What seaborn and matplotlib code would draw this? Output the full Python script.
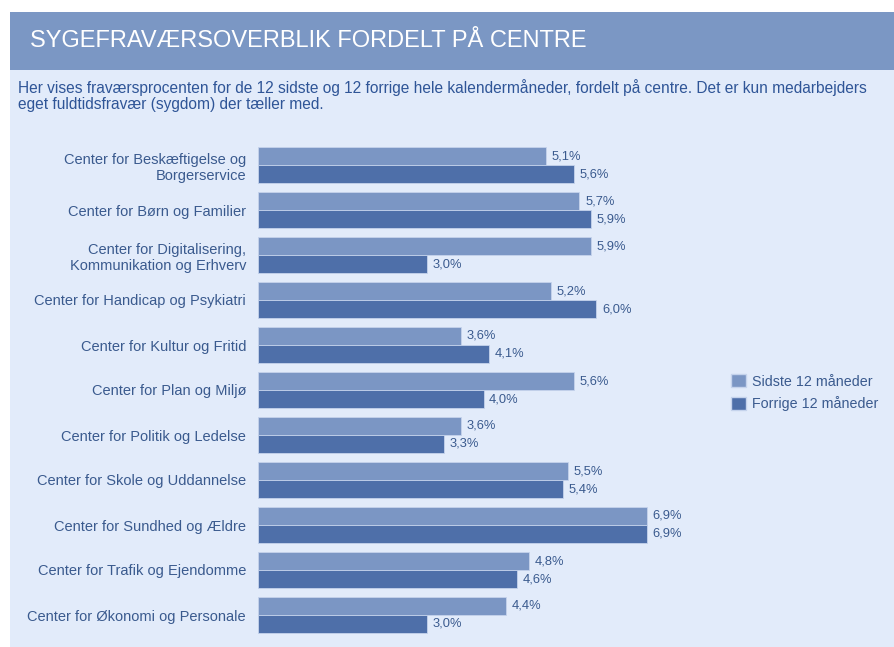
import matplotlib
matplotlib.use('Agg')
import matplotlib.pyplot as plt
from matplotlib.patches import Rectangle, Patch
import pandas as pd
import seaborn as sns

centers = [
    "Center for Beskæftigelse og\nBorgerservice",
    "Center for Børn og Familier",
    "Center for Digitalisering,\nKommunikation og Erhverv",
    "Center for Handicap og Psykiatri",
    "Center for Kultur og Fritid",
    "Center for Plan og Miljø",
    "Center for Politik og Ledelse",
    "Center for Skole og Uddannelse",
    "Center for Sundhed og Ældre",
    "Center for Trafik og Ejendomme",
    "Center for Økonomi og Personale",
]
sidste = [5.1, 5.7, 5.9, 5.2, 3.6, 5.6, 3.6, 5.5, 6.9, 4.8, 4.4]
forrige = [5.6, 5.9, 3.0, 6.0, 4.1, 4.0, 3.3, 5.4, 6.9, 4.6, 3.0]
series = ["Sidste 12 måneder", "Forrige 12 måneder"]

df = pd.DataFrame({
    "center": centers * 2,
    "value": sidste + forrige,
    "period": [series[0]] * len(centers) + [series[1]] * len(centers),
})

light = "#7b96c4"
dark = "#4e6fa9"
panel = "#e2ebfa"
header = "#7b97c4"
txt = "#3a5a8e"

sns.set_theme(style="white")
plt.rcParams['font.family'] = ['Liberation Sans', 'DejaVu Sans']

W, H = 894, 647
fig = plt.figure(figsize=(W / 100, H / 100), dpi=100)
fig.patch.set_facecolor("white")

# background panels
fig.patches.append(Rectangle((10 / W, 0), 1, 1 - 70 / H, transform=fig.transFigure,
                             facecolor=panel, edgecolor="none", zorder=-10))
fig.patches.append(Rectangle((10 / W, 1 - 70 / H), 1, 58 / H, transform=fig.transFigure,
                             facecolor=header, edgecolor="none", zorder=-10))

fig.text(30 / W, 1 - 41 / H, "SYGEFRAVÆRSOVERBLIK FORDELT PÅ CENTRE", color="white",
         fontsize=17, va="center", ha="left")
fig.text(18 / W, 1 - 79 / H,
         "Her vises fraværsprocenten for de 12 sidste og 12 forrige hele kalendermåneder, fordelt på centre. "
         "Det er kun medarbejders\neget fuldtidsfravær (sygdom) der tæller med.",
         color="#2f5597", fontsize=11.2, va="top", ha="left", linespacing=1.05)

ax = fig.add_axes([258 / W, 1 - 637.5 / H, 442 / W, 495 / H])
ax.set_facecolor("none")
sns.barplot(data=df, y="center", x="value", hue="period", orient="h",
            palette=[light, dark], saturation=1, width=0.8, ax=ax, legend=False,
            edgecolor="#c5d3ec", linewidth=0.6)

for cont in ax.containers:
    ax.bar_label(cont, labels=[f"{b.get_width():.1f}%".replace(".", ",") for b in cont],
                 padding=4, fontsize=9.3, color=txt)

ax.set_xlim(0, 442 / 56.4)
ax.set_xlabel("")
ax.set_ylabel("")
ax.set_xticks([])
sns.despine(ax=ax, left=True, bottom=True)
ax.tick_params(axis="y", length=0, pad=8.6, labelsize=10.5, labelcolor=txt)

handles = [Patch(facecolor=light, edgecolor="#c5d3ec"), Patch(facecolor=dark, edgecolor="#c5d3ec")]
fig.legend(handles, series, loc="upper left", bbox_to_anchor=(731 / W, 1 - 374 / H),
           frameon=False, fontsize=10.3, labelcolor=txt, borderpad=0, borderaxespad=0,
           handlelength=1.05, handleheight=1.05, handletextpad=0.4, labelspacing=0.55)

fig.savefig("out.png", dpi=100)
